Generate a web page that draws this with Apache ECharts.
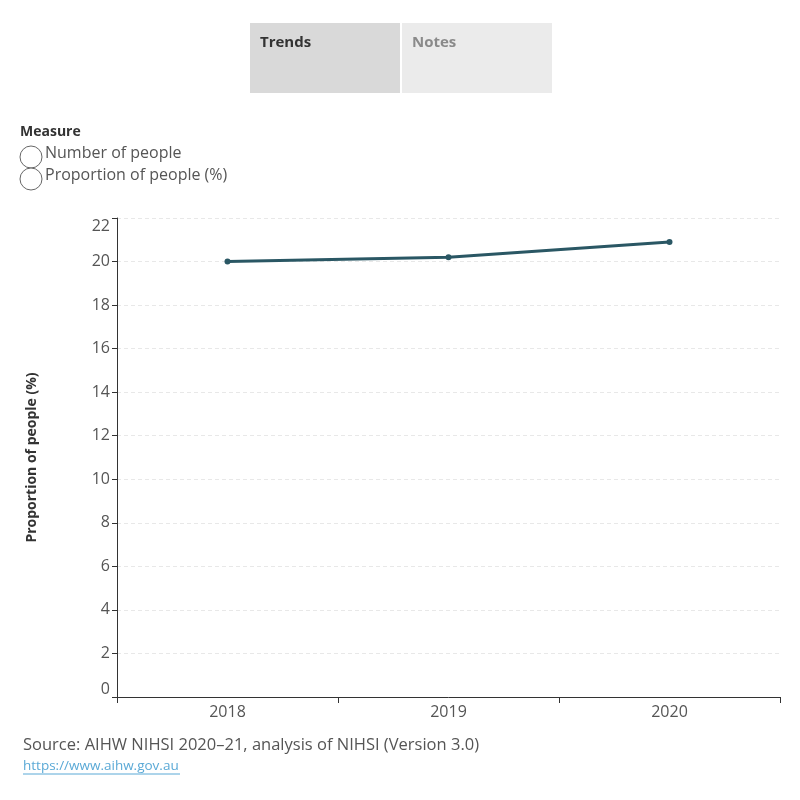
<!DOCTYPE html>
<html>
<head>
<meta charset="utf-8">
<script src="https://cdn.jsdelivr.net/npm/echarts@6/dist/echarts.min.js"></script>
<style>
  html, body { margin: 0; padding: 0; background: #fff; }
  #chart { width: 800px; height: 800px; }
</style>
</head>
<body>
<div id="chart"></div>
<script>
const years = ['2018', '2019', '2020']
const proportion = [20.0, 20.2, 20.9]
const measureOptions = ['Number of people', 'Proportion of people (%)']
const tabs = ['Trends', 'Notes']

const font = '"Open Sans", "Noto Sans", sans-serif'
const lineColor = '#2a5764'

const chart = echarts.init(document.getElementById('chart'))

const graphics = [
  { type: 'rect', shape: { x: 250, y: 23, width: 150, height: 70 }, style: { fill: '#d9d9d9' } },
  { type: 'rect', shape: { x: 402, y: 23, width: 150, height: 70 }, style: { fill: '#ebebeb' } },
  { type: 'text', x: 260, y: 35, style: { text: tabs[0], font: 'bold 15px ' + font, fill: '#333' } },
  { type: 'text', x: 412, y: 35, style: { text: tabs[1], font: 'bold 15px ' + font, fill: '#8a8a8a' } },
  { type: 'text', x: 20, y: 125, style: { text: 'Measure', font: 'bold 14px ' + font, fill: '#333' } },
  { type: 'text', x: 23, y: 737, style: { text: 'Source: AIHW NIHSI 2020–21, analysis of NIHSI (Version 3.0)', font: '16.5px ' + font, fill: '#555' } },
  { type: 'text', x: 23, y: 759, style: { text: 'https://www.aihw.gov.au', font: '13.5px ' + font, fill: '#5aa9d6' } },
  { type: 'line', shape: { x1: 23, y1: 774, x2: 180, y2: 774 }, style: { stroke: '#5aa9d6', lineWidth: 1 } }
]
measureOptions.forEach((m, i) => {
  graphics.push({ type: 'circle', shape: { cx: 31, cy: 157 + i * 22, r: 11 }, style: { fill: '#fff', stroke: '#666', lineWidth: 1 } })
  graphics.push({ type: 'text', x: 45, y: 145 + i * 22, style: { text: m, font: '16px ' + font, fill: '#555' } })
})

chart.setOption({
  animation: false,
  textStyle: { fontFamily: font },
  grid: { left: 117, right: 20, top: 218, bottom: 103 },
  xAxis: {
    type: 'category',
    data: years,
    boundaryGap: true,
    axisLine: { lineStyle: { color: '#333', width: 1 } },
    axisTick: { show: true, length: 6, lineStyle: { color: '#333' } },
    axisLabel: { color: '#555', fontSize: 16, margin: 7 },
    splitLine: { show: false }
  },
  yAxis: {
    type: 'value',
    min: 0,
    max: 22,
    interval: 2,
    name: 'Proportion of people (%)',
    nameLocation: 'middle',
    nameGap: 78,
    nameTextStyle: { color: '#333', fontSize: 14, fontWeight: 'bold' },
    axisLine: { show: true, lineStyle: { color: '#333', width: 1 } },
    axisTick: { show: true, length: 5, lineStyle: { color: '#333' } },
    axisLabel: { color: '#555', fontSize: 16, margin: 7, verticalAlignMaxLabel: 'top', verticalAlignMinLabel: 'bottom' },
    splitLine: { show: true, lineStyle: { color: '#e8e8e8', type: [4, 3] } }
  },
  series: [{
    type: 'line',
    data: proportion,
    symbol: 'circle',
    symbolSize: 6,
    lineStyle: { color: lineColor, width: 3 },
    itemStyle: { color: lineColor }
  }],
  graphic: graphics
})
</script>
</body>
</html>
